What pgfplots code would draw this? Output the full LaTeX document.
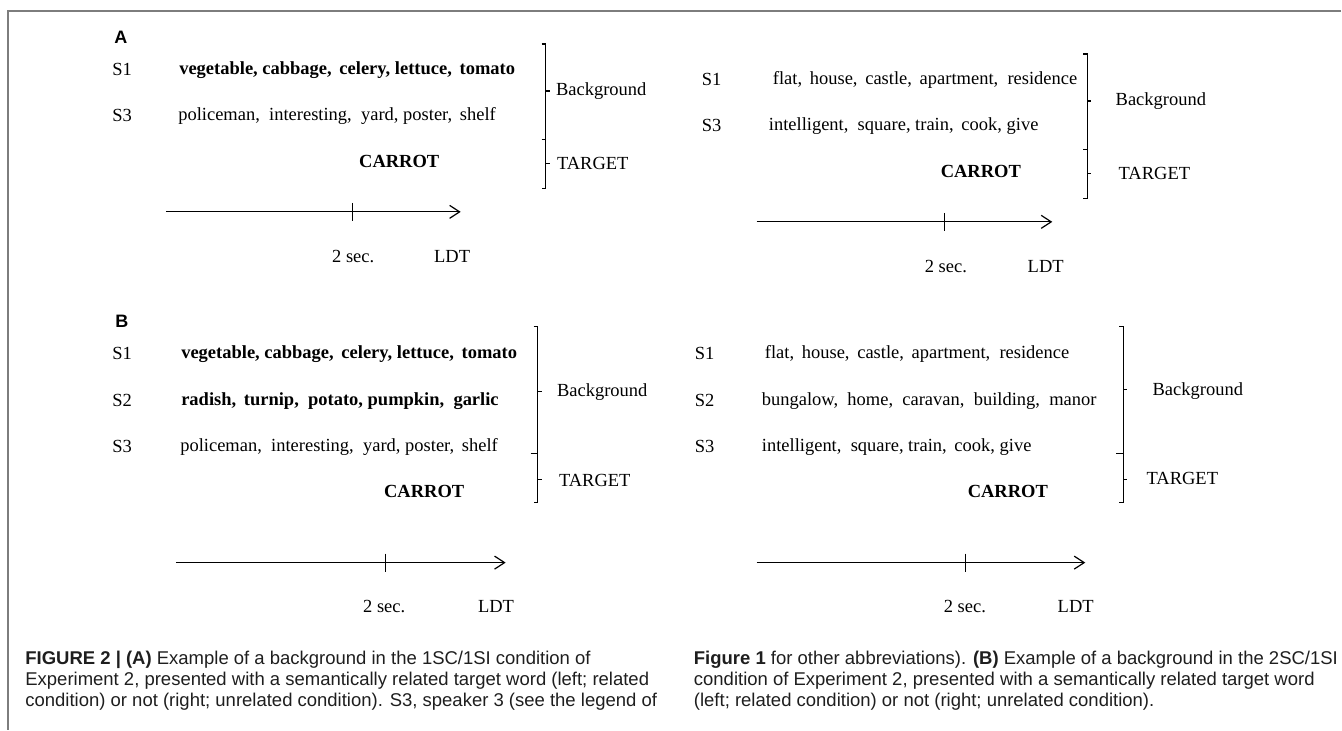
\documentclass[border=0pt]{standalone}
\usepackage{fontspec}
\setmainfont{Liberation Serif}
\newfontfamily\capfont{Liberation Sans}
\newfontfamily\labfont{Liberation Sans}
\usepackage{pgfplots}
\pgfplotsset{compat=1.18}
\usetikzlibrary{arrows.meta}
\definecolor{framegray}{RGB}{125,125,125}
\definecolor{captext}{RGB}{30,30,30}
\tikzset{
  tx/.style={anchor=west, inner sep=0pt, font=\fontsize{9.25}{11}\selectfont},
  tb/.style={anchor=west, inner sep=0pt, font=\fontsize{9.25}{11}\selectfont\bfseries},
  panlab/.style={anchor=west, inner sep=0pt, font=\fontsize{9}{11}\selectfont\labfont\bfseries},
  figcap/.style={anchor=base west, inner sep=0pt, text=captext, font=\fontsize{9.25}{11}\selectfont\capfont},
}
\begin{document}
\begin{tikzpicture}
\begin{axis}[
  width=671pt, height=365pt, scale only axis,
  xmin=0, xmax=1342, ymin=0, ymax=730, y dir=reverse,
  hide axis, clip=false,
  ln/.style={black, line width=0.6pt, forget plot},
  arr/.style={black, line width=0.6pt, forget plot, -{Straight Barb[length=5pt,width=6.5pt]}},
]
\addplot[draw=none, forget plot] coordinates {(0,0) (1342,730)};
% frame
\addplot[framegray, line width=0.9pt, forget plot] coordinates {(1342,11) (8,11) (8,730)};

% ---------- Panel A, left ----------
\addplot[ln] coordinates {(542,44) (546,44) (546,189) (542,189)};
\addplot[ln] coordinates {(542,140) (546,140)};
\addplot[ln] coordinates {(546,91) (550,91)};
\addplot[ln] coordinates {(546,164) (550,164)};
\addplot[arr] coordinates {(166,212) (461,212)};
\addplot[ln] coordinates {(353,203) (353,221)};
% ---------- Panel A, right ----------
\addplot[ln] coordinates {(1084,54) (1088,54) (1088,199) (1084,199)};
\addplot[ln] coordinates {(1084,150) (1088,150)};
\addplot[ln] coordinates {(1088,101) (1092,101)};
\addplot[ln] coordinates {(1088,174) (1092,174)};
\addplot[arr] coordinates {(757,222) (1053,222)};
\addplot[ln] coordinates {(945,213) (945,231)};
% ---------- Panel B, left ----------
\addplot[ln] coordinates {(534,327) (538,327) (538,503) (534,503)};
\addplot[ln] coordinates {(531,454) (538,454)};
\addplot[ln] coordinates {(538,392) (542,392)};
\addplot[ln] coordinates {(538,480) (542,480)};
\addplot[arr] coordinates {(176,563) (506,563)};
\addplot[ln] coordinates {(386,554) (386,572)};
% ---------- Panel B, right ----------
\addplot[ln] coordinates {(1120,327) (1124,327) (1124,503) (1120,503)};
\addplot[ln] coordinates {(1117,454) (1124,454)};
\addplot[ln] coordinates {(1124,390) (1128,390)};
\addplot[ln] coordinates {(1124,480) (1128,480)};
\addplot[arr] coordinates {(757,563) (1086,563)};
\addplot[ln] coordinates {(966,554) (966,572)};

% ---------- texts A ----------
\node[panlab] at (axis cs:114,37) {A};
\node[tx] at (axis cs:112,70) {S1};
\node[tb] at (axis cs:179,70) {vegetable, cabbage, \,celery, lettuce, \,tomato};
\node[tx] at (axis cs:112,116) {S3};
\node[tx] at (axis cs:178,116) {policeman, \ interesting, \ yard, poster, \,shelf};
\node[tb] at (axis cs:359,162) {CARROT};
\node[tx] at (axis cs:556,91) {Background};
\node[tx] at (axis cs:557,164) {TARGET};
\node[tx] at (axis cs:332,257) {2 sec.};
\node[tx] at (axis cs:434,257) {LDT};

\node[tx] at (axis cs:702,80) {S1};
\node[tx] at (axis cs:773,80) {flat, \,house, \,castle, \,apartment, \ residence};
\node[tx] at (axis cs:702,126) {S3};
\node[tx] at (axis cs:769,126) {intelligent, \ square, train, \,cook, give};
\node[tb] at (axis cs:941,172) {CARROT};
\node[tx] at (axis cs:1116,101) {Background};
\node[tx] at (axis cs:1119,174) {TARGET};
\node[tx] at (axis cs:925,267) {2 sec.};
\node[tx] at (axis cs:1028,267) {LDT};

% ---------- texts B ----------
\node[panlab] at (axis cs:115,322) {B};
\node[tx] at (axis cs:112,354) {S1};
\node[tb] at (axis cs:181,354) {vegetable, cabbage, \,celery, lettuce, \,tomato};
\node[tx] at (axis cs:112,401) {S2};
\node[tb] at (axis cs:181,401) {radish, \,turnip, \ potato, pumpkin, \ garlic};
\node[tx] at (axis cs:112,447) {S3};
\node[tx] at (axis cs:180,447) {policeman, \ interesting, \ yard, poster, \,shelf};
\node[tb] at (axis cs:384,492) {CARROT};
\node[tx] at (axis cs:557,392) {Background};
\node[tx] at (axis cs:559,481) {TARGET};
\node[tx] at (axis cs:363,607) {2 sec.};
\node[tx] at (axis cs:478,607) {LDT};

\node[tx] at (axis cs:695,354) {S1};
\node[tx] at (axis cs:765,354) {flat, \,house, \,castle, \,apartment, \ residence};
\node[tx] at (axis cs:695,401) {S2};
\node[tx] at (axis cs:762,401) {bungalow, \ home, \ caravan, \ building, \ manor};
\node[tx] at (axis cs:695,447) {S3};
\node[tx] at (axis cs:762,447) {intelligent, \ square, train, \,cook, give};
\node[tb] at (axis cs:968,492) {CARROT};
\node[tx] at (axis cs:1153,391) {Background};
\node[tx] at (axis cs:1147,479) {TARGET};
\node[tx] at (axis cs:944,607) {2 sec.};
\node[tx] at (axis cs:1058,607) {LDT};

% ---------- caption ----------
\node[figcap] at (axis cs:25,665) {\textbf{FIGURE 2 | (A)} Example of a background in the 1SC/1SI condition of};
\node[figcap] at (axis cs:25,686) {Experiment 2, presented with a semantically related target word (left; related};
\node[figcap] at (axis cs:25,707) {condition) or not (right; unrelated condition). S3, speaker 3 (see the legend of};
\node[figcap] at (axis cs:694,665) {\textbf{Figure 1} for other abbreviations). \textbf{(B)} Example of a background in the 2SC/1SI};
\node[figcap] at (axis cs:694,686) {condition of Experiment 2, presented with a semantically related target word};
\node[figcap] at (axis cs:694,707) {(left; related condition) or not (right; unrelated condition).};
\end{axis}
\end{tikzpicture}
\end{document}
